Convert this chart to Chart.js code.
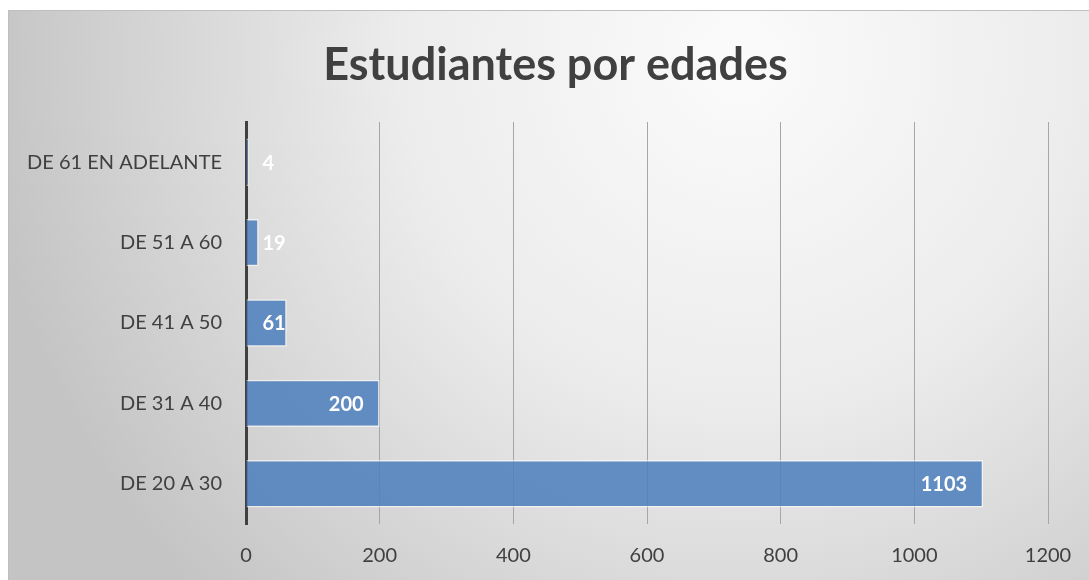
<!DOCTYPE html>
<html>
<head>
<meta charset="utf-8">
<script src="https://cdn.jsdelivr.net/npm/chart.js@4/dist/chart.umd.min.js"></script>
<style>
  html, body { margin: 0; padding: 0; background: #fff; }
  #wrap { width: 1089px; height: 580px; position: relative; }
</style>
</head>
<body>
<div id="wrap"><canvas id="edadesChart"></canvas></div>
<script>
// Datos
const categorias = ['DE 20 A 30', 'DE 31 A 40', 'DE 41 A 50', 'DE 51 A 60', 'DE 61 EN ADELANTE'];
const estudiantes = [1103, 200, 61, 19, 4];
const ejeX = [0, 200, 400, 600, 800, 1000, 1200];

const textColor = '#404040';

// Fondo con degradado radial y marco gris
const fondoPlugin = {
    id: 'fondo',
    beforeDraw(chart) {
        const ctx = chart.ctx;
        const x0 = 8, y0 = 10, w = chart.width - x0, h = chart.height - y0;
        ctx.save();
        const g = ctx.createRadialGradient(740, 60, 0, 740, 60, 760);
        g.addColorStop(0, '#fbfbfb');
        g.addColorStop(0.45, '#ececec');
        g.addColorStop(1, '#c4c4c4');
        ctx.fillStyle = g;
        ctx.fillRect(x0, y0, w, h);
        ctx.strokeStyle = '#bfbfbf';
        ctx.lineWidth = 1;
        ctx.strokeRect(x0 + 0.5, y0 + 0.5, w, h);
        ctx.restore();
    }
};

// Etiquetas de valor (blancas, negrita, extremo interior)
const etiquetasPlugin = {
    id: 'etiquetas',
    afterDatasetsDraw(chart) {
        const ctx = chart.ctx;
        const meta = chart.getDatasetMeta(0);
        ctx.save();
        ctx.font = 'bold 20px Lato';
        ctx.fillStyle = '#ffffff';
        ctx.textAlign = 'right';
        ctx.textBaseline = 'middle';
        meta.data.forEach((bar, i) => {
            const txt = String(estudiantes[i]);
            const tw = ctx.measureText(txt).width;
            const x = Math.max(bar.x - 16, bar.base + 16 + tw);
            ctx.fillText(txt, x, bar.y + 1);
        });
        ctx.restore();
    }
};

new Chart(document.getElementById('edadesChart'), {
    type: 'bar',
    data: {
        labels: categorias,
        datasets: [{
            data: estudiantes,
            backgroundColor: 'rgba(79, 129, 189, 0.88)',
            borderColor: 'rgba(255, 255, 255, 0.6)',
            borderWidth: 1.5,
            barPercentage: 0.59,
            categoryPercentage: 1
        }]
    },
    options: {
        indexAxis: 'y',
        responsive: true,
        maintainAspectRatio: false,
        animation: false,
        layout: { padding: { top: 10, left: 22, right: 0, bottom: 12 } },
        plugins: {
            legend: { display: false },
            tooltip: { enabled: false },
            title: {
                display: true,
                text: 'Estudiantes por edades',
                color: textColor,
                font: { family: 'Lato', size: 45, weight: 'bold' },
                padding: { top: 28, bottom: 30 }
            }
        },
        scales: {
            x: {
                min: 0,
                max: 1200,
                afterBuildTicks: s => { s.ticks = ejeX.map(v => ({ value: v })); },
                afterFit: s => { s.height = 44; s.paddingRight = 41; },
                grid: { color: '#a6a6a6', lineWidth: 1, drawTicks: false },
                border: { display: false },
                ticks: {
                    color: textColor,
                    font: { family: 'Lato', size: 20 },
                    padding: 20,
                    callback: v => String(v)
                }
            },
            y: {
                reverse: true,
                afterFit: s => { s.width = 224; },
                grid: { display: false, drawTicks: false },
                border: { display: true, color: '#404040', width: 3 },
                ticks: {
                    color: textColor,
                    font: { family: 'Lato', size: 20 },
                    padding: 24
                }
            }
        }
    },
    plugins: [fondoPlugin, etiquetasPlugin]
});
</script>
</body>
</html>
